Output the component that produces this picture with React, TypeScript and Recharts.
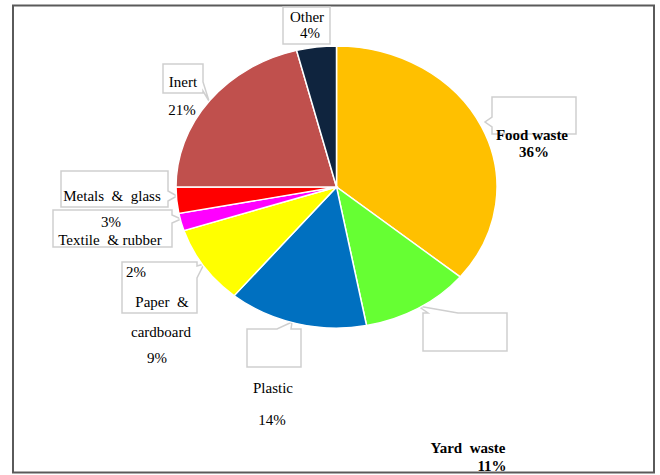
import { PieChart, Pie, Cell } from "recharts";

const categories = ["Food waste", "Yard waste", "Plastic", "Paper & cardboard", "Textile & rubber", "Metals & glass", "Inert", "Other"];
const shares = [36, 11, 14, 9, 2, 3, 21, 4];
const colors = ["#FFC000", "#66FF33", "#0070C0", "#FFFF00", "#FF00FF", "#FF0000", "#C0504D", "#0F243E"];

const data = categories.map((name, i) => ({ name, value: shares[i] }));

const W = 660;
const H = 475;
// the original pie is squashed vertically
const CX = 336.5;
const CY = 187;
const SQUASH = 0.8785;
const FONT = "Liberation Serif, Tinos, Times New Roman, DejaVu Serif, serif";

type Side = "top" | "right" | "bottom" | "left" | null;
type Callout = { x: number; y: number; w: number; h: number; side: Side; b0: number; b1: number; tip: [number, number] };

const callouts: Callout[] = [
  { x: 283, y: 7, w: 47, h: 37, side: null, b0: 0, b1: 0, tip: [0, 0] },
  { x: 163, y: 64, w: 40, h: 29, side: "right", b0: 18, b1: 27, tip: [209, 101] },
  { x: 61, y: 171, w: 107, h: 36, side: "right", b0: 20, b1: 30, tip: [177, 196] },
  { x: 53, y: 210, w: 119, h: 37, side: "right", b0: 5, b1: 13, tip: [181, 219] },
  { x: 122, y: 262, w: 75, h: 51, side: "right", b0: 4, b1: 16, tip: [204, 264] },
  { x: 247, y: 329, w: 54, h: 38, side: "top", b0: 30, b1: 44, tip: [292, 322] },
  { x: 492, y: 97, w: 84, h: 37, side: "left", b0: 20, b1: 30, tip: [485, 122] },
  { x: 423, y: 313, w: 84, h: 38, side: "top", b0: 5, b1: 35, tip: [418, 306] },
];

function calloutPath(c: Callout) {
  const { x, y, w, h, side, b0, b1, tip } = c;
  const t = `L${tip[0]},${tip[1]}`;
  if (side === "right") return `M${x},${y}H${x + w}V${y + b0}${t}L${x + w},${y + b1}V${y + h}H${x}Z`;
  if (side === "left") return `M${x},${y}H${x + w}V${y + h}H${x}V${y + b1}${t}L${x},${y + b0}Z`;
  if (side === "top") return `M${x},${y}H${x + b0}${t}L${x + b1},${y}H${x + w}V${y + h}H${x}Z`;
  if (side === "bottom") return `M${x},${y}H${x + w}V${y + h}H${x + b1}${t}L${x + b0},${y + h}H${x}Z`;
  return `M${x},${y}H${x + w}V${y + h}H${x}Z`;
}

const pct = (i: number) => `${shares[i]}%`;

type Label = { text: string; x: number; y: number; bold?: boolean; anchor?: "start" | "middle" };
const labels: Label[] = [
  { text: categories[7], x: 307, y: 22 },
  { text: pct(7), x: 310, y: 38 },
  { text: categories[6], x: 183, y: 87 },
  { text: pct(6), x: 182, y: 115 },
  { text: "Metals  &  glass", x: 112, y: 201 },
  { text: pct(5), x: 111, y: 227 },
  { text: "Textile  & rubber", x: 110, y: 245 },
  { text: pct(4), x: 126, y: 277, anchor: "start" },
  { text: "Paper  &", x: 162, y: 307 },
  { text: "cardboard", x: 161, y: 337 },
  { text: pct(3), x: 157, y: 363 },
  { text: categories[2], x: 273, y: 393 },
  { text: pct(2), x: 272, y: 425 },
  { text: categories[0], x: 532, y: 140, bold: true },
  { text: pct(0), x: 534, y: 157, bold: true },
  { text: "Yard  waste", x: 468, y: 453, bold: true },
  { text: pct(1), x: 492, y: 471, bold: true },
];

const layer = { position: "absolute" as const, left: 0, top: 0 };

export default function App() {
  return (
    <div style={{ position: "absolute", left: 0, top: 0, width: W, height: H, background: "#fff", overflow: "hidden" }}>
      <svg width={W} height={H} style={layer}>
        <rect x={13} y={5.5} width={641} height={467} fill="#fff" stroke="#5a5a5a" strokeWidth={2} />
        {callouts.map((c, i) => (
          <path key={i} d={calloutPath(c)} fill="#fff" stroke="#cfcfcf" strokeWidth={1.5} />
        ))}
      </svg>
      <div style={{ ...layer, width: W, height: H, transform: `scaleY(${SQUASH})`, transformOrigin: `${CX}px ${CY}px` }}>
        <PieChart width={W} height={H} margin={{ top: 0, right: 0, bottom: 0, left: 0 }}>
          <Pie
            data={data}
            dataKey="value"
            nameKey="name"
            cx={CX}
            cy={CY}
            outerRadius={160.5}
            startAngle={90}
            endAngle={-270}
            stroke="#fff"
            strokeWidth={1.5}
            isAnimationActive={false}
          >
            {data.map((d, i) => (
              <Cell key={d.name} fill={colors[i]} />
            ))}
          </Pie>
        </PieChart>
      </div>
      <svg width={W} height={H} style={{ ...layer, pointerEvents: "none", fontFamily: FONT }}>
        {labels.map((l, i) => (
          <text
            key={i}
            x={l.x}
            y={l.y}
            textAnchor={l.anchor ?? "middle"}
            fontSize={15}
            fontWeight={l.bold ? "bold" : "normal"}
            fill="#000"
            style={{ whiteSpace: "pre", fontFamily: FONT }}
          >
            {l.text}
          </text>
        ))}
      </svg>
    </div>
  );
}
